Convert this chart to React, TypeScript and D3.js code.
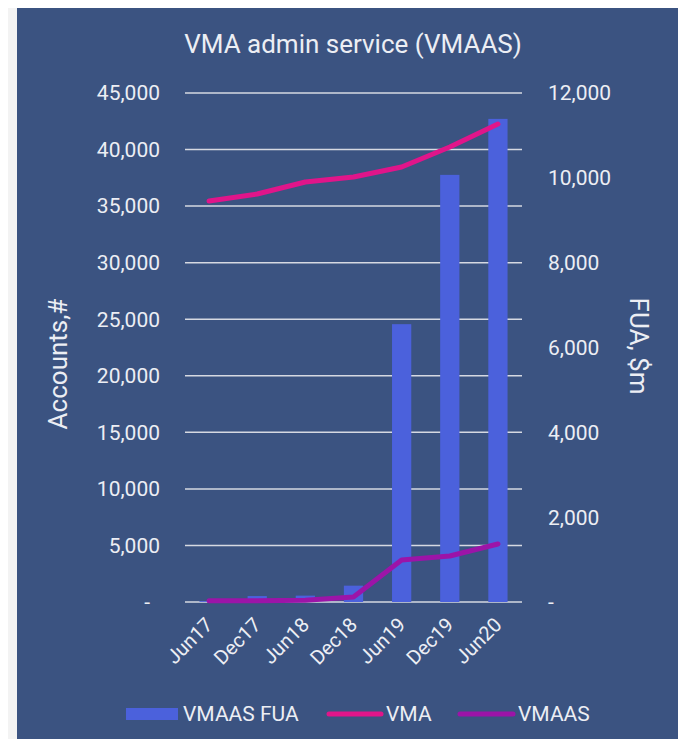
import React from "react";
import * as d3 from "d3";

const categories = ["Jun17", "Dec17", "Jun18", "Dec18", "Jun19", "Dec19", "Jun20"];
const fuaValues = [20, 140, 150, 385, 6550, 10070, 11390];
const vmaValues = [35450, 36070, 37130, 37570, 38460, 40230, 42260];
const vmaasValues = [100, 100, 150, 440, 3710, 4070, 5130];
const leftTicks = [0, 5000, 10000, 15000, 20000, 25000, 30000, 35000, 40000, 45000];
const rightTicks = [0, 2000, 4000, 6000, 8000, 10000, 12000];

const W = 686;
const H = 747;
const margin = { left: 185, right: 164, top: 93, bottom: 145 };
const textColor = "#eceef4";
const font = "Roboto, 'Noto Sans', sans-serif";

const fmt = (v: number) => (v === 0 ? "-" : d3.format(",")(v));

function Chart() {
  const svgRef = React.useRef<SVGSVGElement>(null);

  React.useEffect(() => {
    const svg = d3.select(svgRef.current);
    svg.selectAll("*").remove();

    const x0 = margin.left;
    const x1 = W - margin.right;
    const y0 = H - margin.bottom;
    const y1 = margin.top;

    const xScale = d3.scaleBand().domain(categories).range([x0, x1]).paddingInner(0.6).paddingOuter(0.3);
    const yLeft = d3.scaleLinear().domain([0, 45000]).range([y0, y1]);
    const yRight = d3.scaleLinear().domain([0, 12000]).range([y0, y1]);

    svg.append("rect").attr("x", 17).attr("y", 7).attr("width", W - 17).attr("height", H - 7).attr("fill", "#3b5381");

    // title
    svg
      .append("text")
      .attr("x", 353)
      .attr("y", 53)
      .attr("text-anchor", "middle")
      .attr("fill", textColor)
      .attr("font-size", 26)
      .attr("font-family", font)
      .text("VMA admin service (VMAAS)");

    // grid + left labels
    svg
      .append("g")
      .selectAll("line")
      .data(leftTicks)
      .join("line")
      .attr("x1", x0)
      .attr("x2", x1)
      .attr("y1", (d) => yLeft(d))
      .attr("y2", (d) => yLeft(d))
      .attr("stroke", "#d6d9e2")
      .attr("stroke-width", 1.5);

    svg
      .append("g")
      .selectAll("text")
      .data(leftTicks)
      .join("text")
      .attr("x", (d) => (d === 0 ? 150 : 160))
      .attr("y", (d) => yLeft(d))
      .attr("dy", "0.35em")
      .attr("text-anchor", "end")
      .attr("fill", textColor)
      .attr("font-size", 21)
      .attr("font-family", font)
      .text(fmt);

    svg
      .append("g")
      .selectAll("text")
      .data(rightTicks)
      .join("text")
      .attr("x", 548)
      .attr("y", (d) => yRight(d))
      .attr("dy", "0.35em")
      .attr("text-anchor", "start")
      .attr("fill", textColor)
      .attr("font-size", 21)
      .attr("font-family", font)
      .text(fmt);

    // axis titles
    svg
      .append("text")
      .attr("transform", `translate(67, 364) rotate(-90)`)
      .attr("text-anchor", "middle")
      .attr("fill", textColor)
      .attr("font-size", 26)
      .attr("font-family", font)
      .text("Accounts,#");

    svg
      .append("text")
      .attr("transform", `translate(630, 346) rotate(90)`)
      .attr("text-anchor", "middle")
      .attr("fill", textColor)
      .attr("font-size", 26)
      .attr("font-family", font)
      .text("FUA, $m");

    // bars
    svg
      .append("g")
      .selectAll("rect")
      .data(fuaValues)
      .join("rect")
      .attr("x", (_, i) => xScale(categories[i])!)
      .attr("width", xScale.bandwidth())
      .attr("y", (d) => yRight(d))
      .attr("height", (d) => y0 - yRight(d))
      .attr("fill", "#4b61dc");

    const cx = (i: number) => xScale(categories[i])! + xScale.bandwidth() / 2;
    const line = d3
      .line<number>()
      .x((_, i) => cx(i))
      .y((d) => yLeft(d));

    svg
      .append("path")
      .attr("d", line(vmaValues))
      .attr("fill", "none")
      .attr("stroke", "#e0158a")
      .attr("stroke-width", 5)
      .attr("stroke-linecap", "round")
      .attr("stroke-linejoin", "round");

    svg
      .append("path")
      .attr("d", line(vmaasValues))
      .attr("fill", "none")
      .attr("stroke", "#9c14a8")
      .attr("stroke-width", 5)
      .attr("stroke-linecap", "round")
      .attr("stroke-linejoin", "round");

    // x labels
    svg
      .append("g")
      .selectAll("text")
      .data(categories)
      .join("text")
      .attr("transform", (_, i) => `translate(${cx(i) + 5}, ${y0 + 24}) rotate(-45)`)
      .attr("text-anchor", "end")
      .attr("fill", textColor)
      .attr("font-size", 20)
      .attr("font-family", font)
      .text((d) => d);

    // legend
    const legend = svg.append("g").attr("font-family", font).attr("font-size", 21);
    legend.append("rect").attr("x", 126).attr("y", 708).attr("width", 52).attr("height", 12).attr("fill", "#4b61dc");
    legend.append("text").attr("x", 183).attr("y", 714).attr("dy", "0.35em").attr("fill", textColor).text("VMAAS FUA");
    legend
      .append("line")
      .attr("x1", 329)
      .attr("x2", 381)
      .attr("y1", 714)
      .attr("y2", 714)
      .attr("stroke", "#e0158a")
      .attr("stroke-width", 5)
      .attr("stroke-linecap", "round");
    legend.append("text").attr("x", 386).attr("y", 714).attr("dy", "0.35em").attr("fill", textColor).text("VMA");
    legend
      .append("line")
      .attr("x1", 460)
      .attr("x2", 513)
      .attr("y1", 714)
      .attr("y2", 714)
      .attr("stroke", "#9c14a8")
      .attr("stroke-width", 5)
      .attr("stroke-linecap", "round");
    legend.append("text").attr("x", 518).attr("y", 714).attr("dy", "0.35em").attr("fill", textColor).text("VMAAS");
  }, []);

  return <svg ref={svgRef} width={W} height={H} style={{ display: "block", background: "#f3f3f3" }} />;
}

export default function App() {
  return (
    <div style={{ margin: -8 }}>
      <Chart />
    </div>
  );
}
